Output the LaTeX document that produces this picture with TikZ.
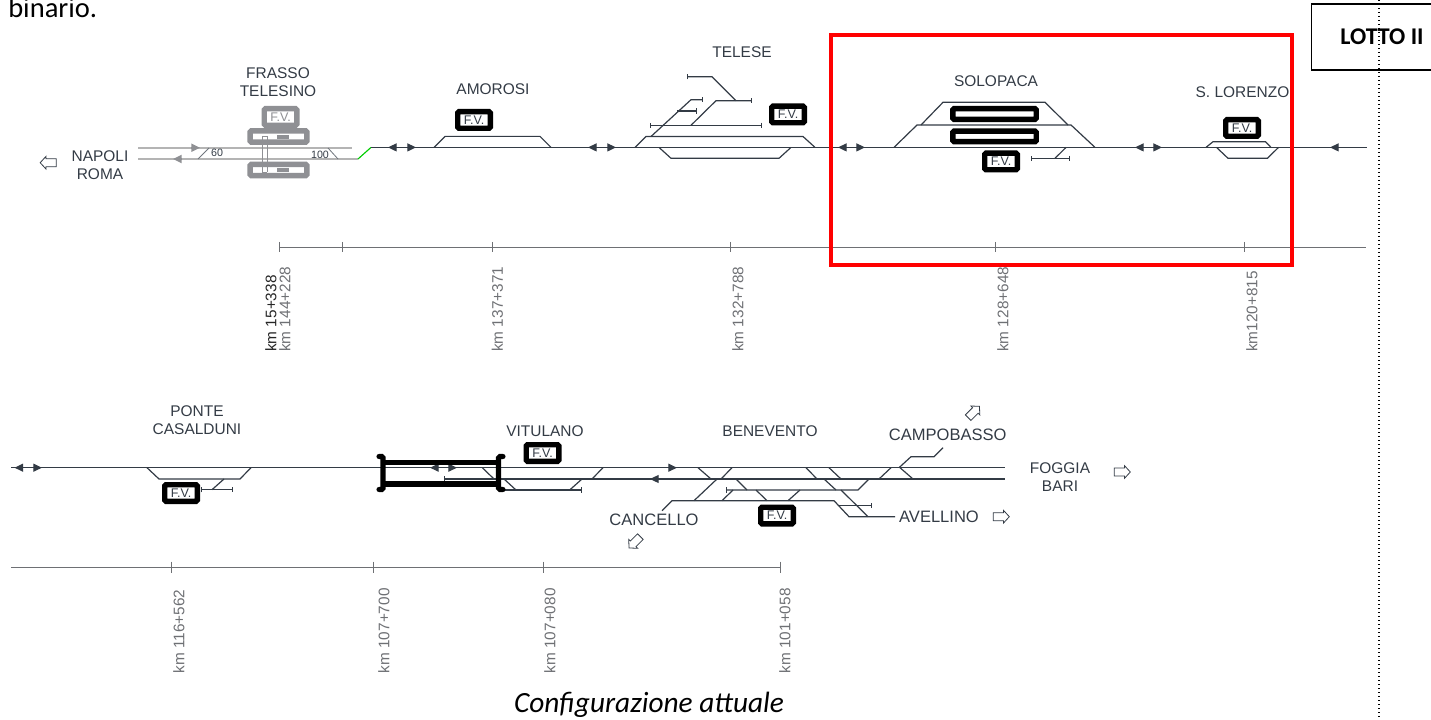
\documentclass[tikz,border=0pt]{standalone}
\usepackage{fontspec}
\setmainfont{Liberation Sans}
\newfontfamily\carlitofont{Carlito}
\usepackage{tikz}
\usetikzlibrary{shapes,shapes.arrows,arrows.meta}
\definecolor{trackcol}{HTML}{333B45}
\definecolor{oldcol}{HTML}{B4B4B4}
\definecolor{oldbox}{HTML}{8F9094}
\definecolor{kmcol}{HTML}{6E7074}
\definecolor{newred}{HTML}{FF0000}
\tikzset{
  track/.style={ draw=trackcol, line width=0.9pt }
}
\tikzset{
  oldtrack/.style={ draw=oldcol, line width=1.3pt }
}
\tikzset{
  endtrack/.style={ track, -{Bar[width=4pt,length=0.8pt]} }
}
\tikzset{
  bothend/.style={ track, {Bar[width=4pt,length=0.8pt]}-{Bar[width=4pt,length=0.8pt]} }
}
\tikzset{
  dirtip/.style={ draw=trackcol, line width=0.9pt, -{Triangle[length=6.5pt,width=6pt,fill=trackcol]} }
}
\tikzset{
  olddir/.style={ draw=oldbox, line width=1.3pt, -{Triangle[length=6.5pt,width=6pt,fill=oldbox]} }
}
\tikzset{
  stat/.style={ text=trackcol, align=center, inner sep=0pt, font=\fontsize{11.6}{13.6}\selectfont }
}
\tikzset{
  statbig/.style={ stat, font=\fontsize{12.4}{14}\selectfont }
}
\tikzset{
  fv/.style={ draw=black, fill=white, line width=4.1pt, rounded corners=1pt, minimum width=24.4pt, minimum height=12.4pt,
    inner sep=0pt, text=trackcol, font=\fontsize{9.4}{10}\selectfont }
}
\tikzset{
  fvold/.style={ fv, draw=oldbox, text=oldbox }
}
\tikzset{
  platf/.style={ draw=black, fill=white, line width=4.1pt, rounded corners=1pt, minimum width=62.6pt, minimum height=8pt, inner sep=0pt }
}
\tikzset{
  platfold/.style={ platf, draw=oldbox, minimum width=42.7pt, minimum height=8.3pt }
}
\tikzset{
  holarrow/.style={ draw=trackcol, fill=white, single arrow, line width=0.6pt, minimum height=12pt, minimum width=9.5pt,
    single arrow head extend=1.5pt, single arrow head indent=0pt, single arrow tip angle=95, inner sep=2.2pt }
}
\tikzset{
  kmline/.style={ draw=kmcol, line width=0.7pt }
}
\tikzset{
  kmlab/.style={ rotate=90, anchor=west, inner sep=0pt, text=kmcol, font=\fontsize{11.5}{13}\selectfont }
}
\begin{document}
\begin{tikzpicture}[x=0.75pt, y=-0.75pt]
  \useasboundingbox (0,0) rectangle (1431,720);

  % first row
  \node[anchor=base west, inner sep=0pt, font=\carlitofont\fontsize{21.4}{25}\selectfont] (binario) at (8,17.5) {binario.};
  \node[holarrow, rotate=180] (arrNapoli) at (50,162.7) {};
  \node[stat] (napoli) at (100,165) {NAPOLI\\ROMA};
  \node[stat] (frasso) at (278,82) {FRASSO\\TELESINO};
  \node[stat] (amorosi) at (493,89.5) {AMOROSI};
  \node[stat] (telese) at (742,51.7) {TELESE};
  \node[stat] (solopaca) at (996,80.7) {SOLOPACA};
  \node[stat] (lorenzo) at (1242.5,91.7) {S. LORENZO};

  \draw[oldtrack] (138,147.7) -- (352,147.7);
  \draw[oldtrack] (138,159) -- (358,159);
  \draw[oldtrack, line width=0.6pt, draw=trackcol!70] (198,159) -- (209,148);
  \draw[oldtrack, line width=0.6pt, draw=trackcol!70] (328,148) -- (338,159);
  \draw[olddir] (191,147.7) -- (200,147.7);
  \draw[olddir] (182,159) -- (173,159);
  \node[inner sep=0pt, text=trackcol, font=\fontsize{8}{10}\selectfont] (vel60) at (217,153) {60};
  \node[inner sep=0pt, text=trackcol, font=\fontsize{8}{10}\selectfont] (vel100) at (320,154.5) {100};
  \draw[draw=green!80!black, line width=0.85pt] (358,159) -- (371,147.4);
  \draw[track] (371,147.4) -- (1366.5,147.4);

  \node[fvold] (fvFrasso) at (280.5,117) {F.V.};
  \node[platfold] (pfFrassoA) at (278.5,136.5) {};
  \node[platfold] (pfFrassoB) at (278.5,170) {};
  \fill[oldbox] (277,135.5) rectangle (289,139);
  \fill[oldbox] (277,168.5) rectangle (289,172);
  \draw[draw=oldbox, line width=0.5pt] (262,136) -- (262,172);
  \draw[draw=oldbox, line width=0.5pt] (267,136) -- (267,172);
  \draw[draw=oldbox, line width=0.5pt] (262,136) -- (267,136);
  \draw[draw=oldbox, line width=0.5pt] (262,172) -- (267,172);

  \draw[dirtip] (397,147.4) -- (388,147.4);
  \draw[dirtip] (407,147.4) -- (416,147.4);
  \draw[dirtip] (597,147.4) -- (588,147.4);
  \draw[dirtip] (607,147.4) -- (616,147.4);
  \draw[dirtip] (847,147.4) -- (838,147.4);
  \draw[dirtip] (856,147.4) -- (865,147.4);
  \draw[dirtip] (1144,147.4) -- (1135,147.4);
  \draw[dirtip] (1153,147.4) -- (1162,147.4);
  \draw[dirtip] (1339,147.4) -- (1330,147.4);

  % amorosi
  \node[fv] (fvAmorosi) at (474,120) {F.V.};
  \draw[track] (434,147.4) -- (445,136.4) -- (540,136.4) -- (551,147.4);

  % telese
  \node[fv] (fvTelese) at (788,114.5) {F.V.};
  \draw[track] (635,147.4) -- (646,136.5) -- (803,136.5) -- (815,147.4);
  \draw[track] (659,147.4) -- (671,158.3) -- (779,158.3) -- (791,147.4);
  \draw[bothend] (650,125.3) -- (762,125.3);
  \draw[endtrack] (651,136.5) -- (691,99.7) -- (703,99.7);
  \draw[endtrack] (677,111) -- (697,111);
  \draw[endtrack] (691,125.3) -- (716,100.7) -- (752,100.7);
  \draw[track, {Bar[width=4pt,length=0.8pt]}-] (687,76.7) -- (712,76.7) -- (736,100.7);

  % solopaca
  \node[platf] (pfSolopacaA) at (994.5,114) {};
  \node[platf] (pfSolopacaB) at (994.5,136.4) {};
  \node[fv] (fvSolopaca) at (1001,161.5) {F.V.};
  \draw[track] (894,147.4) -- (917,125) -- (1071,125) -- (1095,147.4);
  \draw[track] (921,125) -- (943,102.3) -- (1045,102.3) -- (1068,125);
  \draw[track] (1066,147.4) -- (1055,158.3);
  \draw[bothend] (1031,158.3) -- (1070,158.3);

  % s. lorenzo
  \node[fv] (fvLorenzo) at (1242,128) {F.V.};
  \draw[track] (1206,147.4) -- (1213,141.7) -- (1265.5,141.7) -- (1271,147.4);
  \draw[track] (1216.5,147.4) -- (1228,158.3) -- (1267.4,158.3) -- (1278.5,147.4);

  \draw[kmline] (279,247) -- (1366,247);
  \draw[kmline] (279,242) -- (279,252);
  \draw[kmline] (342,242) -- (342,252);
  \draw[kmline] (492,242) -- (492,252);
  \draw[kmline] (730,242) -- (730,252);
  \draw[kmline] (995,242) -- (995,252);
  \draw[kmline] (1244,242) -- (1244,252);
  \node[kmlab, text=black!85] (km15) at (271,352) {km 15+338};
  \node[kmlab] (km144) at (285,352) {km 144+228};
  \node[kmlab] (km137) at (497.5,352) {km 137+371};
  \node[kmlab] (km132) at (738,352) {km 132+788};
  \node[kmlab] (km128) at (1003,352) {km 128+648};
  \node[kmlab] (km120) at (1252,352) {km120+815};

  \draw[draw=newred, line width=2.3pt] (831,35) rectangle (1292,265);

  \draw[draw=black, line width=1.4pt] (1432,4) -- (1311.5,4) -- (1311.5,70) -- (1432,70);
  \node[font=\carlitofont\bfseries\fontsize{18}{20}\selectfont, inner sep=0pt] (lotto) at (1382,37) {LOTTO II};
  \draw[draw=black, line width=1pt, dotted] (1379,0) -- (1379,720);

  % second row
  \node[stat] (ponte) at (197,420.5) {PONTE\\CASALDUNI};
  \node[stat] (vitulano) at (545,430.7) {VITULANO};
  \node[stat] (benevento) at (770,430.7) {BENEVENTO};
  \node[statbig] (campobasso) at (947.7,435) {CAMPOBASSO};
  \node[statbig] (cancello) at (654,520) {CANCELLO};
  \node[statbig] (avellino) at (939,516.7) {AVELLINO};
  \node[stat] (foggia) at (1060,477.5) {FOGGIA\\BARI};
  \node[holarrow, rotate=45] (arrCampobasso) at (972.5,413.3) {};
  \node[holarrow, rotate=225] (arrCancello) at (636,541) {};
  \node[holarrow] (arrAvellino) at (999.5,516.7) {};
  \node[holarrow] (arrFoggia) at (1120.5,472) {};

  \draw[track] (11,467.7) -- (1005,467.7);
  \draw[track] (444,479) -- (1005,479);
  \draw[track, {Bar[width=4pt,length=0.8pt]}-] (444,479) -- (470,479);
  \draw[endtrack] (501,490) -- (582,490);
  \draw[dirtip] (23,467.7) -- (14.5,467.7);
  \draw[dirtip] (33,467.7) -- (42,467.7);
  \draw[dirtip] (439,467.7) -- (430,467.7);
  \draw[dirtip] (448,467.7) -- (457,467.7);
  \draw[dirtip] (668,467.7) -- (677,467.7);
  \draw[dirtip] (659,479) -- (650,479);

  % ponte casalduni
  \node[fv] (fvPonte) at (181,493) {F.V.};
  \draw[track] (147,467.7) -- (159,479) -- (240,479) -- (251,467.7);
  \draw[track] (224,479) -- (212,489.7);
  \draw[bothend] (201,489.7) -- (232.7,489.7);

  % galleria
  \draw[draw=black, line width=3.8pt] (383,462.3) -- (498.3,462.3);
  \draw[draw=black, line width=3.8pt] (383,484) -- (498.3,484);
  \draw[draw=black, line width=3.8pt, line cap=round, rounded corners=1pt] (379,456.5) -- (383,456.5) -- (383,489.5) -- (379,489.5);
  \draw[draw=black, line width=3.8pt, line cap=round, rounded corners=1pt] (503,456.5) -- (498.5,456.5) -- (498.5,489.5) -- (503,489.5);
  \draw[track] (482.3,467.7) -- (494,479);
  \draw[track] (504,479) -- (516,490);

  % vitulano
  \node[fv] (fvVitulano) at (542.5,453) {F.V.};
  \draw[track] (592,479) -- (603,467.7);
  \draw[track] (570,489.7) -- (582,479);

  % benevento
  \node[fv] (fvBenevento) at (777,515.5) {F.V.};
  \draw[track] (698,467.7) -- (711,479);
  \draw[track] (721,479) -- (732,467.7);
  \draw[track] (717,479) -- (694,500.7);
  \draw[track] (662,510.7) -- (672,500.7) -- (834,500.7) -- (849,516.7) -- (895,516.7);
  \draw[track] (736,479) -- (747,490);
  \draw[track, {Bar[width=4pt,length=0.8pt]}-] (726,490) -- (858,490) -- (869,479);
  \draw[track] (733,490) -- (722,500.7);
  \draw[track] (756,490) -- (767,500.7);
  \draw[track] (788,500.7) -- (800,490);
  \draw[track] (806,467.7) -- (817,479);
  \draw[track] (829,467.7) -- (841,479);
  \draw[track] (824,479) -- (836,490);
  \draw[track] (841,490) -- (868,516.7);
  \draw[endtrack] (839,505.7) -- (872,505.7);
  \draw[track] (879,479) -- (891,467.7);
  \draw[track] (899,467.7) -- (911,456.7) -- (934,456.7) -- (943,447.7);
  \draw[track] (900,467.7) -- (913,479);

  \draw[kmline] (11,567) -- (780,567);
  \draw[kmline] (171,561.7) -- (171,572.7);
  \draw[kmline] (373,561.7) -- (373,572.7);
  \draw[kmline] (543,561.7) -- (543,572.7);
  \draw[kmline] (780,561.7) -- (780,572.7);
  \node[kmlab] (km116) at (179,673.5) {km 116+562};
  \node[kmlab] (km107a) at (384,673.5) {km 107+700};
  \node[kmlab] (km107b) at (550,673.5) {km 107+080};
  \node[kmlab] (km101) at (785,673.5) {km 101+058};

  \node[font=\carlitofont\itshape\fontsize{22}{24}\selectfont, inner sep=0pt] (config) at (649,705) {Configurazione attuale};
\end{tikzpicture}
\end{document}
